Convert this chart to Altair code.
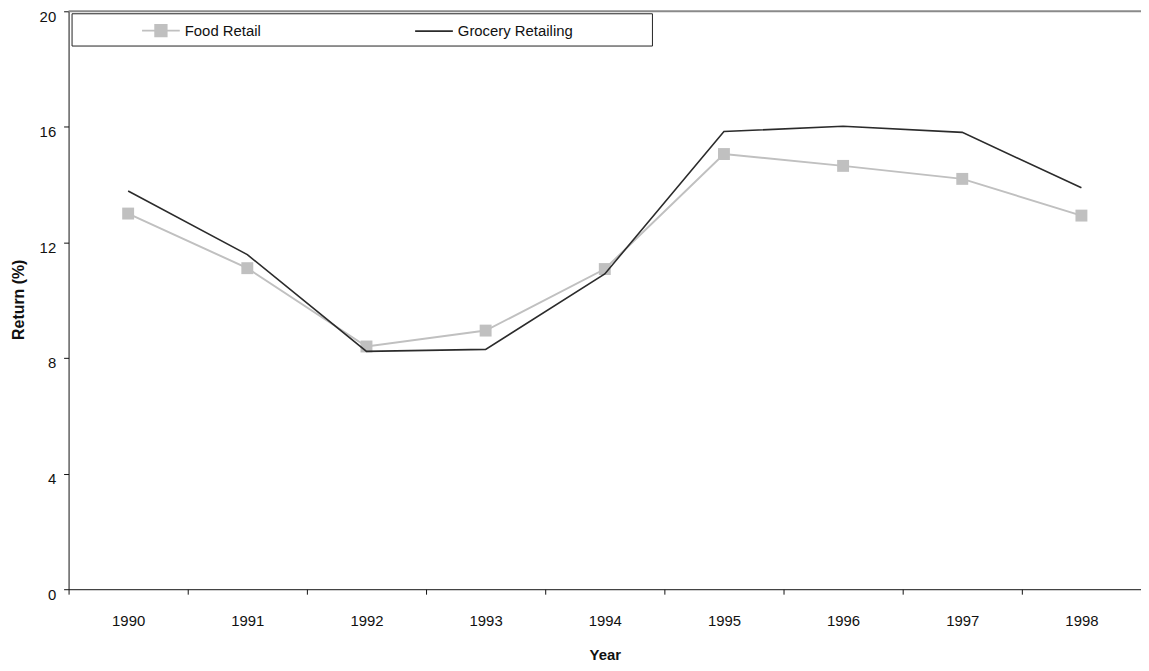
import altair as alt
import pandas as pd

years = [1990, 1991, 1992, 1993, 1994, 1995, 1996, 1997, 1998]
food_retail = [13.0, 11.11, 8.40, 8.95, 11.08, 15.06, 14.65, 14.20, 12.93]
grocery_retailing = [13.78, 11.58, 8.23, 8.30, 10.91, 15.84, 16.02, 15.81, 13.89]
series_names = ["Food Retail", "Grocery Retailing"]
series_colors = ["#c0c0c0", "#2b2b2b"]
y_ticks = [0, 4, 8, 12, 16, 20]

FONT = "Liberation Sans"
W, H = 1080, 582

df = pd.DataFrame({
    "Year": [str(y) for y in years] * 2,
    "Return": food_retail + grocery_retailing,
    "Series": [series_names[0]] * len(years) + [series_names[1]] * len(years),
})

food_path = "M-1,0H1M-0.31,-0.31H0.31V0.31H-0.31Z"
grocery_path = "M-1,0H1"

x_enc = alt.X(
    "Year:O",
    bandPosition=0.5,
    scale=alt.Scale(type="band", paddingInner=0, paddingOuter=0),
    axis=alt.Axis(
        title="Year", tickBand="extent", labelAngle=0, labelPadding=20,
        titleY=66, titleBaseline="middle",
    ),
)
y_enc = alt.Y(
    "Return:Q",
    scale=alt.Scale(domain=[0, 20]),
    axis=alt.Axis(
        title="Return (%)", values=y_ticks, labelPadding=8, labelOffset=5,
        titleX=-50, titleY=H / 2 - 1, titleAngle=270, titleBaseline="middle", titleAlign="center",
        titleFontSize=16,
    ),
)

base = alt.Chart(df)

frame = alt.Chart(pd.DataFrame({"k": [0]})).mark_rect(
    fill="white", stroke="#222222", strokeWidth=1
).encode(
    x=alt.value(3.5), x2=alt.value(588), y=alt.value(2.5), y2=alt.value(35)
)

top_rule = alt.Chart(pd.DataFrame({"k": [0]})).mark_rule(
    color="#8a8a8a", strokeWidth=2
).encode(x=alt.value(0), x2=alt.value(W), y=alt.value(0))

food_line = base.transform_filter(alt.datum.Series == series_names[0]).mark_line(
    color=series_colors[0], strokeWidth=2
).encode(x=x_enc, y=y_enc)

food_points = base.transform_filter(alt.datum.Series == series_names[0]).mark_point(
    shape="square", filled=True, color=series_colors[0], size=144, opacity=1
).encode(x=x_enc, y=y_enc)

grocery_line = base.transform_filter(alt.datum.Series == series_names[1]).mark_line(
    color=series_colors[1], strokeWidth=1.6
).encode(x=x_enc, y=y_enc)

leg = alt.Legend(
    orient="none", legendX=73, legendY=-1, direction="horizontal", title=None,
    symbolSize=1444, symbolOpacity=1, symbolStrokeWidth=1.6,
    labelFont=FONT, labelFontSize=15, labelColor="#111111",
    columnPadding=151, padding=0, labelOffset=4,
)

legend_layer = base.transform_filter(alt.datum.Series == series_names[1]).mark_point(
    opacity=0, size=1
).encode(
    x=x_enc, y=y_enc,
    fill=alt.Fill("Series:N", scale=alt.Scale(domain=series_names, range=series_colors), legend=leg),
    stroke=alt.Stroke("Series:N", scale=alt.Scale(domain=series_names, range=series_colors), legend=leg),
    shape=alt.Shape("Series:N", scale=alt.Scale(domain=series_names, range=[food_path, grocery_path]), legend=leg),
)

chart = alt.layer(
    top_rule, frame, food_line, food_points, grocery_line, legend_layer
).properties(
    width=W, height=H,
    autosize=alt.AutoSizeParams(type="none"),
    padding={"left": 61, "top": 1, "right": 0, "bottom": 72},
).configure_view(
    stroke=None
).configure_axis(
    grid=False, domainColor="#111111", tickColor="#111111", tickSize=5,
    labelFont=FONT, labelFontSize=15, labelColor="#111111",
    titleFont=FONT, titleFontSize=15, titleFontWeight="bold", titleColor="#111111",
)

chart.save("out.html", embed_options={"renderer": "svg", "actions": False})
